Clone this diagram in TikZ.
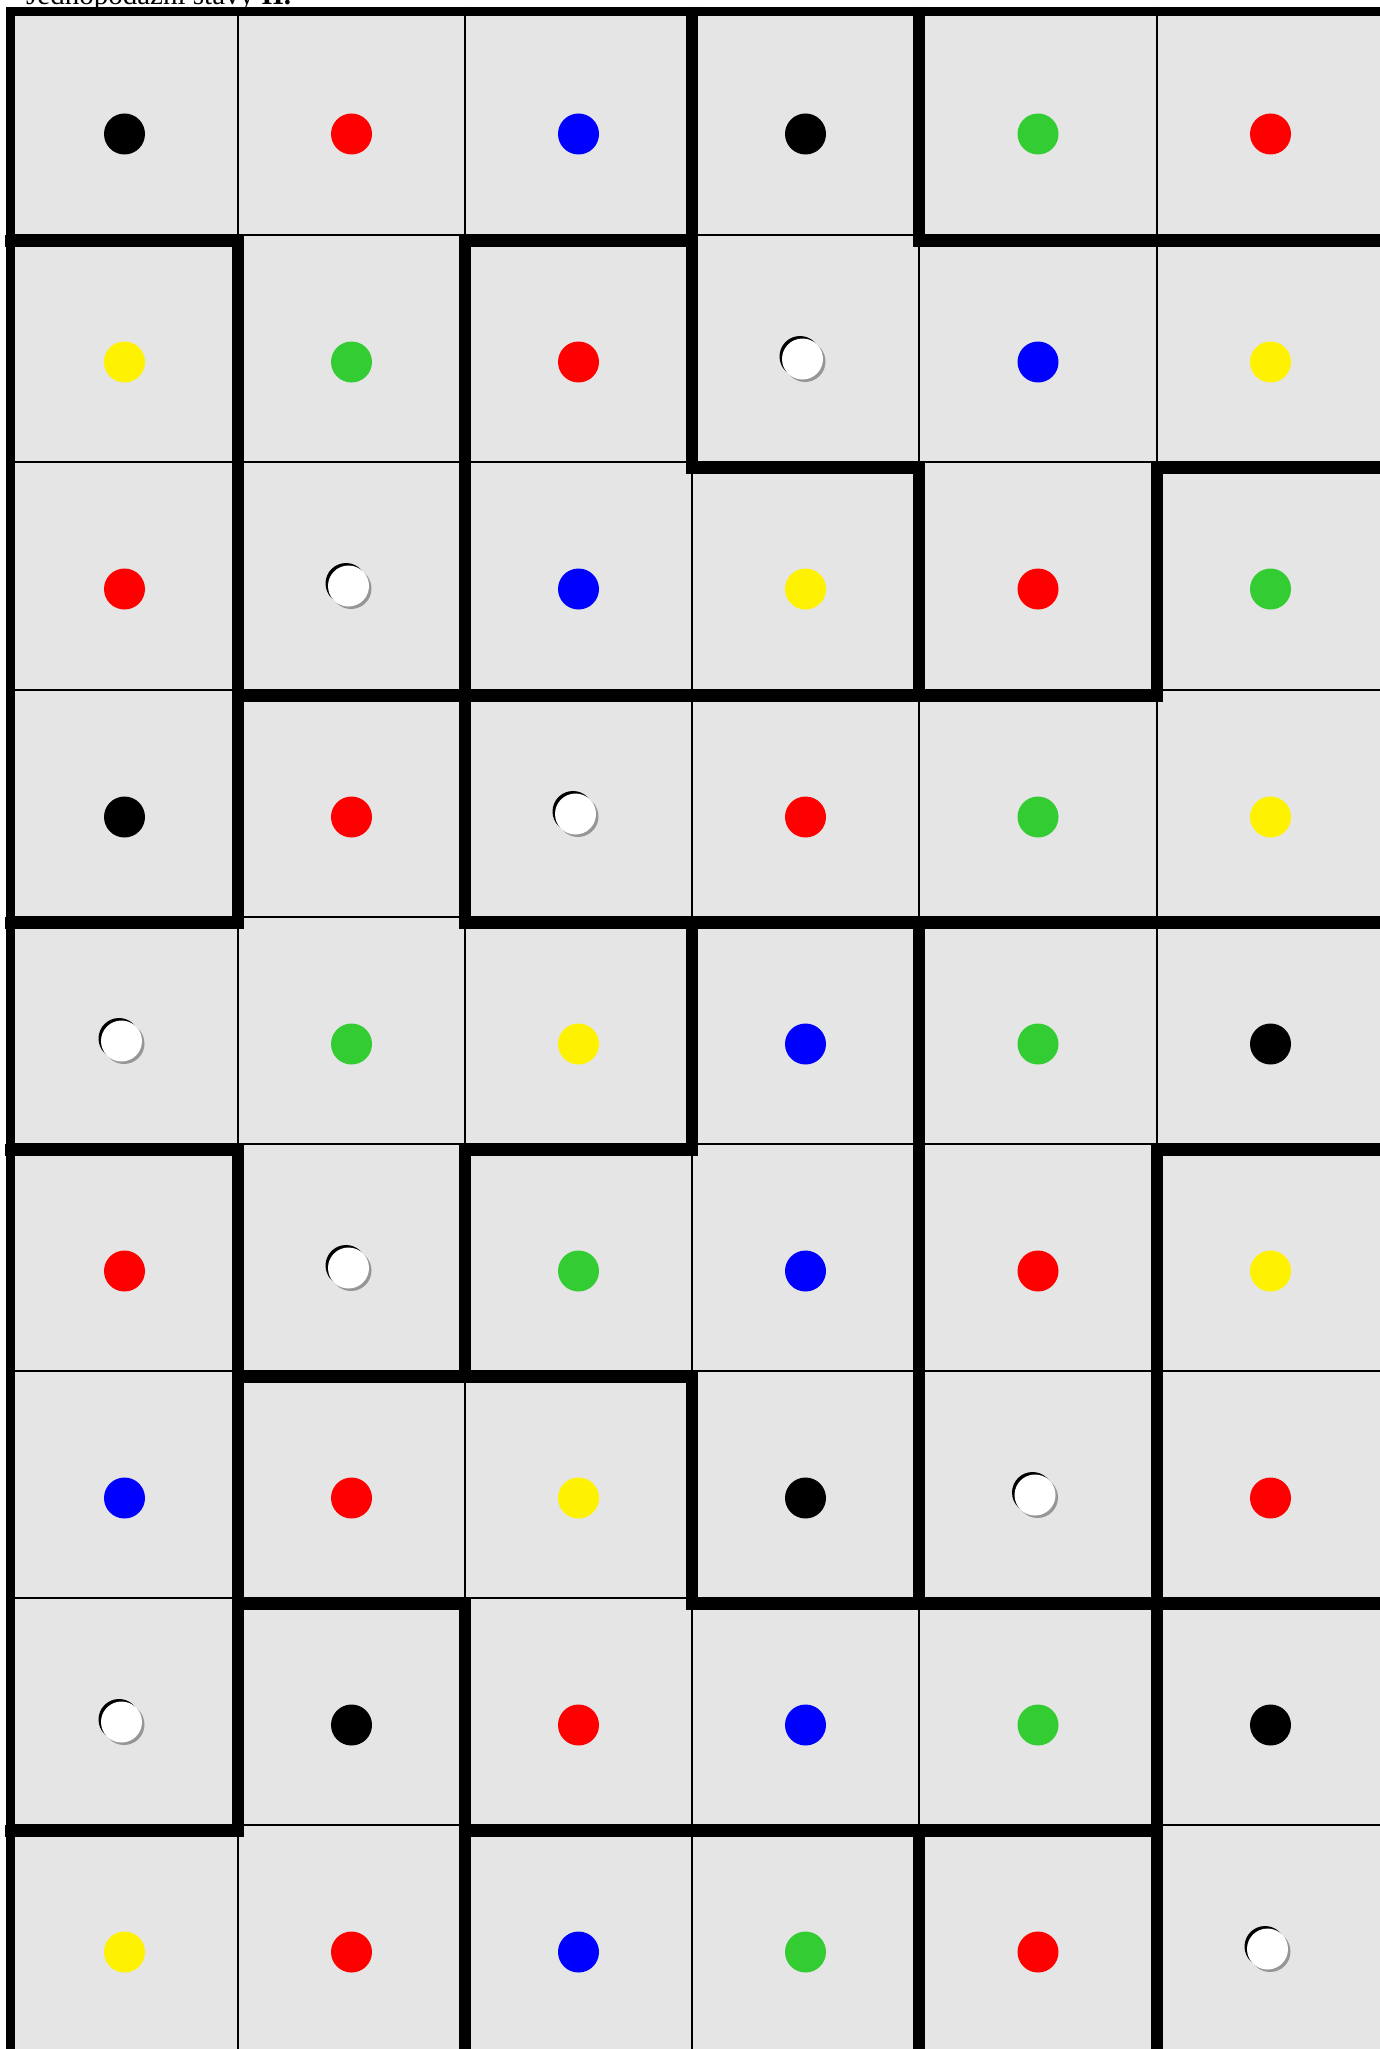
\documentclass[tikz,border=0pt]{standalone}
\usepackage{fontspec}
\setmainfont{Liberation Serif}
\usepackage{xcolor}
\usepackage{tikz}

\definecolor{cellgray}{RGB}{229,229,229}
\definecolor{dotgreen}{RGB}{51,204,51}
\definecolor{shade}{RGB}{150,150,150}

\begin{document}
\begin{tikzpicture}[x=1pt, y=-1pt,
    every node/.style={inner sep=0pt},
    cellline/.style={line width=1.5pt},
    hwall/.style={line width=11.7pt, line cap=rect, transform canvas={yshift=-5.85pt}},
    vwall/.style={line width=11.7pt, shorten >=-11.7pt},
    rim/.style={line width=9pt},
    ball/.style={circle, minimum size=41pt},
    hole/.style={ball, fill=white,
        preaction={fill=black, transform canvas={shift={(-2.5pt,2.5pt)}}},
        preaction={fill=shade, transform canvas={shift={(2.5pt,-2.5pt)}}}}
]
\useasboundingbox (0,0) rectangle (1379,2049);
\def\colx{{11,238,465,692,919,1157,1384}}
\def\rowy{{7,235,462,690,917,1144,1371,1598,1825,2052}}
\foreach \i in {0,...,6}
  \foreach \j in {0,...,9}
    \coordinate (p-\i-\j) at ({\colx[\i]},{\rowy[\j]});

\node[anchor=base west, font=\fontsize{29}{29}\selectfont] (title) at (26,4.5) {Jednopodazní stavy \textbf{II.}};

\fill[cellgray] (p-0-0) rectangle (p-6-9);
\foreach \i in {1,...,5} \draw[cellline] (p-\i-0) -- (p-\i-9);
\foreach \j in {1,...,8} \draw[cellline] (p-0-\j) -- (p-6-\j);

% walls
\foreach \j/\a/\b in {1/0/1, 1/2/3, 1/4/6, 2/3/4, 2/5/6, 3/1/5, 4/0/1, 4/2/6,
                      5/0/1, 5/2/3, 5/5/6, 6/1/3, 7/1/2, 7/3/6, 8/0/1, 8/2/5}
  \draw[hwall] (p-\a-\j) -- (p-\b-\j);
\foreach \i/\a/\b in {1/1/4, 1/5/8, 2/1/4, 2/5/6, 2/7/9, 3/0/2, 3/4/5, 3/6/7,
                      4/0/1, 4/2/3, 4/4/7, 4/8/9, 5/2/3, 5/5/9}
  \draw[vwall] (p-\i-\a) -- (p-\i-\b);
\draw[rim] ([xshift=-0.5pt]p-0-9) |- ([yshift=-4.5pt]p-6-0);

\def\wht{white}
\foreach \row [count=\j] in {
    {black,red,blue,black,dotgreen,red},
    {yellow,dotgreen,red,white,blue,yellow},
    {red,white,blue,yellow,red,dotgreen},
    {black,red,white,red,dotgreen,yellow},
    {white,dotgreen,yellow,blue,dotgreen,black},
    {red,white,dotgreen,blue,red,yellow},
    {blue,red,yellow,black,white,red},
    {white,black,red,blue,dotgreen,black},
    {yellow,red,blue,dotgreen,red,white}}
  \foreach \c [count=\i] in \row {
    \pgfmathtruncatemacro\k{\i-1}
    \pgfmathtruncatemacro\m{\j-1}
    \pgfmathsetmacro\xa{\colx[\k]}
    \pgfmathsetmacro\xb{\colx[\i]}
    \pgfmathsetmacro\ya{\rowy[\m]}
    \edef\cc{\c}
    \ifx\cc\wht
      \node[hole] (d-\j-\i) at ({(\xa+\xb)/2-3},{\ya+124}) {};
    \else
      \node[ball, fill=\c] (d-\j-\i) at ({(\xa+\xb)/2},{\ya+127}) {};
    \fi
  }
\end{tikzpicture}
\end{document}
